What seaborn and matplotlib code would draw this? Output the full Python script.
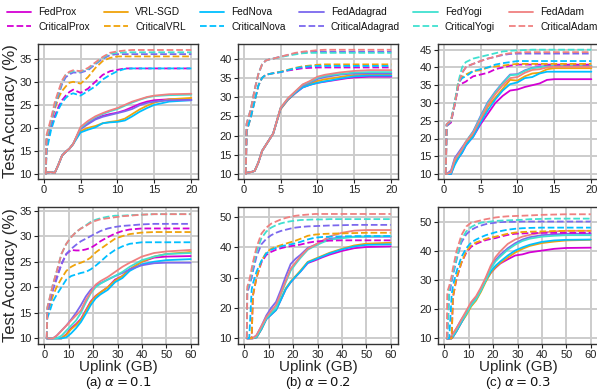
import matplotlib
matplotlib.use("Agg")
import matplotlib.pyplot as plt
import seaborn as sns
import pandas as pd

# ---- data ----
methods = ["FedProx", "VRL-SGD", "FedNova", "FedAdagrad", "FedYogi", "FedAdam"]
critical = ["CriticalProx", "CriticalVRL", "CriticalNova", "CriticalAdagrad", "CriticalYogi", "CriticalAdam"]
colors = ["#d400d4", "#f0a30a", "#00bfff", "#7b68ee", "#40e0d0", "#f08080"]

# x grids (uplink in GB)
x_top = [0.3, 0.4, 1, 1.5, 2, 2.5, 3, 3.5, 4, 5, 6, 7, 8, 9, 10, 11, 12, 13, 14, 15, 17, 20]
x_bot = [1, 1.2, 2, 3, 3.5, 5, 7, 9, 11, 13, 15, 17, 19, 21, 23, 26, 29, 32, 35, 40, 45, 50, 60]

# (a) alpha = 0.1, top row
acc_a_top = {
    "FedProx":    [10, 10.3, 10.4, 10.2, 12, 14, 14.8, 15.5, 16.5, 19.8, 21, 22, 22.6, 23, 23.3, 23.8, 24.5, 25.2, 25.7, 26, 26.2, 26.2],
    "VRL-SGD":    [10, 10.3, 10.4, 10.2, 12, 14, 14.8, 15.5, 16.5, 19.3, 20, 20.4, 21, 21.3, 21.5, 22, 23, 24, 24.8, 25.5, 26.2, 26.5],
    "FedNova":    [10, 10.3, 10.4, 10.2, 12, 14, 14.8, 15.5, 16.5, 19, 19.6, 20.1, 21, 21.2, 21.3, 21.6, 22.5, 23.5, 24.3, 25, 25.7, 26],
    "FedAdagrad": [10, 10.3, 10.4, 10.2, 12, 14, 14.8, 15.5, 16.5, 19.8, 20.8, 21.8, 22.4, 22.8, 23.2, 23.6, 24.1, 24.9, 25.4, 25.7, 26, 26],
    "FedYogi":    [10, 10.3, 10.4, 10.2, 12, 14, 14.8, 15.5, 16.5, 20, 21.3, 22.3, 23, 23.6, 24.1, 24.8, 25.5, 26.1, 26.6, 26.9, 27.1, 27.2],
    "FedAdam":    [10, 10.3, 10.4, 10.2, 12, 14, 14.8, 15.5, 16.5, 20.2, 21.5, 22.5, 23.2, 23.8, 24.3, 25, 25.7, 26.2, 26.7, 27, 27.3, 27.4],
    "CriticalProx":    [10, 17, 20, 22.5, 24.5, 26, 27, 27.8, 28.3, 27.6, 28.5, 30, 31.5, 32.3, 32.6, 32.9, 32.9, 32.9, 32.9, 32.9, 32.9, 32.9],
    "CriticalVRL":     [10, 17.5, 21, 24, 26.5, 28, 29, 29.8, 30, 29.6, 31, 33, 34.5, 35.2, 35.5, 35.5, 35.5, 35.5, 35.5, 35.5, 35.5, 35.5],
    "CriticalNova":    [10, 15, 19.5, 22, 24, 25.5, 26.5, 27.2, 27.5, 27, 28, 29, 30.5, 31.5, 32.3, 32.8, 32.9, 32.9, 32.9, 32.9, 32.9, 32.9],
    "CriticalAdagrad": [10, 18, 21, 24.5, 27, 29.5, 31, 31.6, 32, 32, 32.5, 33.8, 35, 35.8, 36, 36, 36, 36, 36, 36, 36, 36],
    "CriticalYogi":    [10, 18, 21.5, 25, 27.5, 30, 31.5, 32, 32.3, 32.2, 32.8, 34, 35.2, 36.1, 36.3, 36.4, 36.4, 36.4, 36.4, 36.4, 36.4, 36.4],
    "CriticalAdam":    [10, 18.5, 22, 25.5, 28, 30.3, 31.6, 32.2, 32.5, 32.3, 33, 34.2, 35.4, 36.3, 36.6, 36.8, 36.9, 36.9, 36.9, 36.9, 36.9, 36.9],
}

# (b) alpha = 0.2, top row
acc_b_top = {
    "FedProx":    [10, 10.3, 10.5, 10.8, 13, 16, 17.5, 19, 20.5, 27, 29.3, 31, 32.5, 33.2, 33.7, 34, 34.3, 34.6, 34.9, 35.1, 35.3, 35.3],
    "VRL-SGD":    [10, 10.3, 10.5, 10.8, 13, 16, 17.5, 19, 20.5, 26.8, 29.3, 31.1, 32.8, 33.5, 34.2, 34.6, 34.9, 35.2, 35.5, 35.7, 35.8, 35.8],
    "FedNova":    [10, 10.3, 10.5, 10.8, 13, 16, 17.5, 19, 20.5, 27, 29.4, 31.1, 32.5, 33.2, 33.7, 34.1, 34.4, 34.8, 35.1, 35.4, 35.6, 35.6],
    "FedAdagrad": [10, 10.3, 10.5, 10.8, 13, 16, 17.5, 19, 20.5, 27, 29.5, 31.3, 33, 33.8, 34.7, 35.2, 35.5, 35.8, 36, 36.1, 36.2, 36.2],
    "FedYogi":    [10, 10.3, 10.5, 10.8, 13, 16, 17.5, 19, 20.5, 27.2, 29.6, 31.4, 33.2, 34, 35, 35.5, 35.8, 36, 36.2, 36.4, 36.5, 36.5],
    "FedAdam":    [10, 10.3, 10.5, 10.8, 13, 16, 17.5, 19, 20.5, 27.2, 29.7, 31.5, 33.3, 34.2, 35.3, 35.8, 36.1, 36.4, 36.6, 36.8, 37, 37],
    "CriticalProx":    [10, 21, 25, 29, 33, 35, 35.8, 36, 36.2, 36.5, 36.9, 37.2, 37.5, 37.6, 37.7, 37.7, 37.7, 37.7, 37.7, 37.7, 37.7, 37.7],
    "CriticalVRL":     [10, 21, 25, 29, 33, 35, 35.8, 36, 36.2, 36.6, 37.1, 37.6, 38, 38.2, 38.4, 38.5, 38.5, 38.5, 38.5, 38.5, 38.5, 38.5],
    "CriticalNova":    [10, 21, 25, 29, 33, 35, 35.8, 36, 36.2, 36.5, 37, 37.5, 37.8, 38, 38.1, 38.1, 38.1, 38.1, 38.1, 38.1, 38.1, 38.1],
    "CriticalAdagrad": [10, 23, 27, 32, 36, 38.5, 39.5, 39.8, 40, 40.5, 40.9, 41.3, 41.6, 41.8, 41.8, 41.8, 41.8, 41.8, 41.8, 41.8, 41.8, 41.8],
    "CriticalYogi":    [10, 23, 27, 32, 36, 38.5, 39.5, 39.8, 40, 40.4, 40.8, 41.1, 41.4, 41.5, 41.5, 41.5, 41.5, 41.5, 41.5, 41.5, 41.5, 41.5],
    "CriticalAdam":    [10, 23, 27, 32, 36, 38.5, 39.5, 39.8, 40, 40.5, 41, 41.5, 41.8, 42, 42.2, 42.3, 42.3, 42.3, 42.3, 42.3, 42.3, 42.3],
}

# (c) alpha = 0.3, top row
acc_c_top = {
    "FedProx":    [10, 10, 10, 13, 14.5, 16, 18, 19.3, 20.5, 24, 27, 30, 32, 33.5, 33.8, 34.5, 35, 35.5, 36.5, 36.7, 36.7, 36.7],
    "VRL-SGD":    [10, 10, 10.5, 13.5, 15, 16.5, 18.5, 19.8, 21, 25, 29, 31.5, 34, 36.5, 36.3, 37.5, 38.3, 38.5, 39.5, 39.8, 39.8, 39.8],
    "FedNova":    [10, 10, 10, 12.5, 14.5, 16, 18, 19.3, 20.5, 24.5, 28, 31, 33.5, 35.3, 35.8, 37, 37.3, 38.3, 38.8, 38.8, 38.8, 38.8],
    "FedAdagrad": [10, 10, 11, 14.5, 16, 17.5, 19, 20.5, 22, 26.3, 30.3, 33.2, 35.7, 38, 38.1, 39.2, 39.9, 40.2, 40.5, 40.5, 40.5, 40.5],
    "FedYogi":    [10, 10, 10.5, 14, 15.5, 17, 19, 20.5, 21.8, 26, 30, 33, 35.5, 37.8, 38, 39, 39.8, 40, 40.4, 40.4, 40.4, 40.4],
    "FedAdam":    [10, 10, 10.5, 14, 15.5, 17, 19, 20.3, 21.5, 25.5, 29.5, 32.5, 35, 37, 37.3, 38.5, 39.3, 39.5, 40, 40.2, 40.2, 40.2],
    "CriticalProx":    [10, 23.5, 24.5, 29.5, 35, 35.5, 36, 36.8, 37.5, 38, 38.5, 39.5, 40, 40.5, 40.8, 40.8, 40.8, 40.8, 40.8, 40.8, 40.8, 40.8],
    "CriticalVRL":     [10, 23.5, 25, 30, 36, 37.3, 38, 38.5, 39, 39.2, 40, 40.3, 40.5, 40.8, 41, 41, 41, 41, 41, 41, 41, 41],
    "CriticalNova":    [10, 23.5, 25, 30, 35.5, 37, 37.5, 38.2, 39, 39.5, 40, 40.8, 41.2, 41.5, 41.8, 41.8, 41.8, 41.8, 41.8, 41.8, 41.8, 41.8],
    "CriticalAdagrad": [10, 24, 25, 29.5, 35, 38.5, 40, 40.6, 41, 41.8, 42.5, 43, 43.5, 43.8, 43.9, 43.9, 43.9, 43.9, 43.9, 43.9, 43.9, 43.9],
    "CriticalYogi":    [10, 24, 25, 30, 36, 40, 41.5, 42, 42.5, 43, 43.5, 44, 44.5, 44.7, 44.8, 44.9, 45, 45, 45, 45, 45, 45],
    "CriticalAdam":    [10, 24, 25, 29.5, 35, 38.5, 40, 40.6, 41, 41.8, 42.5, 43, 43.7, 44, 44.2, 44.3, 44.3, 44.3, 44.3, 44.3, 44.3, 44.3],
}

# (a) alpha = 0.1, bottom row
acc_a_bot = {
    "FedProx":    [10, 10, 10, 10, 10, 10, 10, 10.8, 12, 12.8, 13.8, 15.5, 17.2, 18.3, 19, 20, 21.5, 22.2, 23.5, 25, 25.8, 26, 26.1],
    "VRL-SGD":    [10, 10, 10, 10, 10, 10, 10, 10.7, 11.8, 12.6, 13.6, 15.3, 17, 18.2, 19, 20, 21.3, 22.2, 23.5, 25, 26, 26.5, 26.9],
    "FedNova":    [10, 10, 10, 10, 10, 10, 10, 10.2, 11, 12, 13.2, 14.8, 16.5, 17.8, 18.6, 19.5, 21, 21.8, 23.2, 24.5, 25, 25.3, 25.5],
    "FedAdagrad": [10, 10, 10, 10, 10, 10.5, 11.5, 12.5, 13.7, 15, 16.5, 18.2, 19.5, 20.3, 20.8, 21.5, 22.2, 22.8, 23.5, 24.3, 24.7, 24.8, 24.8],
    "FedYogi":    [10, 10, 10, 10, 10, 10, 10.5, 11.5, 12.5, 13.5, 15, 17, 18.8, 20, 20.7, 21.5, 22.2, 23, 24, 25.3, 26, 26.5, 26.7],
    "FedAdam":    [10, 10, 10, 10, 10, 10.5, 11.5, 12.5, 13.5, 14.5, 15.5, 17.5, 19, 20.5, 21.2, 22, 23, 24, 24.8, 26, 26.7, 27, 27.3],
    "CriticalProx":    [10, 15.5, 17, 18.5, 19.5, 22, 24.5, 26.5, 27.3, 27.2, 27.2, 27.4, 27.7, 28.3, 29, 29.8, 30.5, 31, 31.3, 31.5, 31.5, 31.5, 31.5],
    "CriticalVRL":     [10, 14.5, 16, 17.5, 18.3, 20, 21.7, 23.2, 24, 24.5, 24.8, 25.2, 25.8, 26.8, 27.5, 28.5, 29.5, 30, 30.4, 30.7, 30.8, 30.8, 30.8],
    "CriticalNova":    [10, 14, 15, 16.5, 17.2, 18.5, 20, 21.5, 22.2, 22.5, 22.8, 23, 23.5, 24.2, 25, 26.3, 27.3, 28, 28.5, 28.8, 28.8, 28.8, 28.8],
    "CriticalAdagrad": [10, 15, 16.5, 18.5, 19.5, 21.5, 24.5, 26.5, 27.5, 28.3, 29, 29.5, 30, 30.5, 31, 31.5, 31.8, 32, 32.1, 32.3, 32.4, 32.4, 32.4],
    "CriticalYogi":    [10, 16, 17.5, 19.5, 20.5, 23, 26.5, 28.5, 29.8, 30.8, 31.5, 32.1, 32.8, 33.2, 33.5, 33.8, 34, 34, 34.1, 34.2, 34.3, 34.3, 34.3],
    "CriticalAdam":    [10, 16, 17.5, 19.5, 20.5, 23, 26.5, 28.5, 29.8, 30.8, 31.5, 32, 32.6, 33, 33.3, 33.5, 33.7, 33.9, 34, 34.2, 34.3, 34.3, 34.3],
}

# (b) alpha = 0.2, bottom row
acc_b_bot = {
    "FedProx":    [10, 10, 10, 10, 10, 10.3, 13, 16.3, 17.8, 19.3, 22.7, 26.2, 28.5, 30.3, 32, 34.8, 35.7, 36.7, 37.6, 38.8, 39.7, 40.1, 40.3],
    "VRL-SGD":    [10, 10, 10, 10, 10, 10.3, 13, 16.5, 18, 19.5, 23, 26.5, 28.7, 30.5, 32.3, 35.2, 36.2, 37.2, 38.2, 39.5, 40.6, 41.2, 41.5],
    "FedNova":    [10, 10, 10, 10, 10, 10.3, 13, 16.3, 17.8, 19.3, 22.7, 26.2, 28.5, 30.3, 32, 35, 36, 37, 38, 39.3, 40.3, 40.8, 41],
    "FedAdagrad": [10, 10, 10, 10, 10, 11, 14, 17.5, 20, 22, 26, 30.5, 34.5, 36.2, 37.5, 39.8, 40.8, 42, 42.8, 43.3, 43.5, 43.5, 43.5],
    "FedYogi":    [10, 10, 10, 10, 10, 10.5, 13.5, 16.5, 18.5, 20, 24.5, 28.5, 32.3, 34.5, 36.5, 39.2, 40.5, 41.6, 42.5, 43, 43.4, 43.6, 43.7],
    "FedAdam":    [10, 10, 10, 10, 10, 11, 14, 17, 19, 21, 25, 29, 33, 35, 37, 39.5, 40.8, 42.2, 43.6, 44.8, 45.5, 45.7, 45.7],
    "CriticalProx":    [10, 10, 10, 10, 24, 30, 35, 37.5, 38.5, 39.2, 39.7, 40.1, 40.4, 40.6, 40.9, 41.5, 41.9, 42.1, 42.2, 42.3, 42.3, 42.3, 42.3],
    "CriticalVRL":     [10, 10, 10, 10, 24, 30, 35.5, 38.3, 39.5, 40.2, 40.7, 41.2, 41.7, 42.2, 42.8, 43.8, 44.2, 44.4, 44.5, 44.6, 44.7, 44.8, 44.8],
    "CriticalNova":    [10, 10, 10, 26, 28, 32, 35.5, 38, 39.2, 39.8, 40.3, 40.7, 41, 41.3, 41.8, 42.6, 43.2, 43.4, 43.5, 43.6, 43.7, 43.7, 43.7],
    "CriticalAdagrad": [10, 25, 27, 30, 32, 37, 41, 42.8, 44, 44.8, 45.4, 45.8, 46.2, 46.5, 46.7, 46.9, 47, 47.1, 47.2, 47.3, 47.4, 47.4, 47.4],
    "CriticalYogi":    [10, 26, 28, 31.5, 33.5, 38.5, 43, 45.2, 46.5, 47.3, 47.9, 48.3, 48.6, 48.8, 49, 49.1, 49.2, 49.2, 49.3, 49.3, 49.3, 49.3, 49.3],
    "CriticalAdam":    [10, 27, 29, 33, 35, 40, 44.5, 46.5, 47.8, 48.5, 49.2, 49.7, 50.1, 50.4, 50.6, 50.8, 51, 51, 51, 51, 51, 51, 51],
}

# (c) alpha = 0.3, bottom row
acc_c_bot = {
    "FedProx":    [10, 10, 10, 10, 10.5, 12.5, 15.5, 18.5, 21.5, 23.5, 26.5, 30, 32.5, 34.3, 35.8, 37.2, 38.5, 38.9, 39.6, 40.2, 40.8, 41.1, 41.2],
    "VRL-SGD":    [10, 10, 10, 10, 10.5, 12.5, 15.5, 18, 21, 23, 26, 29.5, 32.5, 34.5, 36, 37.8, 39.5, 40.8, 41.8, 42.8, 43.3, 43.7, 43.9],
    "FedNova":    [10, 10, 10, 10, 10.5, 12.5, 15.5, 18.5, 21.5, 23.5, 26.5, 30, 33, 35, 36.5, 38.5, 40.2, 41.3, 42.2, 43.2, 43.7, 43.9, 44],
    "FedAdagrad": [10, 10, 10, 10.5, 11.5, 13.5, 16.5, 19, 22, 24, 27, 30.5, 34.5, 37, 38.8, 41, 42.7, 44, 44.8, 45.5, 45.8, 46, 46],
    "FedYogi":    [10, 10, 10, 10, 11, 13, 16, 18.5, 21.5, 23.5, 26.5, 30, 34, 36.5, 38.2, 40.5, 42.2, 43.5, 44.3, 45, 45.3, 45.5, 45.5],
    "FedAdam":    [10, 10, 10, 11, 11.5, 13.5, 16.5, 19.5, 22.5, 24.5, 27.5, 31, 35, 38, 40, 42.5, 44, 45, 45.6, 46.4, 46.8, 47, 47],
    "CriticalProx":    [10, 10, 10, 10, 24, 30.5, 36, 39.5, 41.5, 42.5, 43.2, 43.8, 44.2, 44.5, 45, 45.6, 46, 46.1, 46.2, 46.3, 46.3, 46.3, 46.3],
    "CriticalVRL":     [10, 10, 10, 10, 24, 31, 36, 40, 42, 43, 43.6, 44.2, 44.7, 45, 45.4, 46, 46.4, 46.6, 46.7, 46.8, 46.9, 47, 47],
    "CriticalNova":    [10, 10, 10, 25, 28, 33, 38, 41, 43, 44, 44.8, 45.5, 46, 46.5, 46.9, 47.4, 47.7, 47.9, 48, 48.1, 48.1, 48.1, 48.1],
    "CriticalAdagrad": [10, 10, 25, 29.5, 31.5, 37, 43, 45.8, 47.3, 48.2, 48.8, 49.3, 49.6, 49.8, 50, 50.1, 50.1, 50.2, 50.2, 50.2, 50.2, 50.2, 50.2],
    "CriticalYogi":    [10, 10, 27, 30.5, 32.5, 37.5, 44, 46.8, 48.3, 49.2, 49.8, 50, 50.2, 50.4, 50.5, 50.6, 50.7, 50.8, 51, 51.1, 51.2, 51.2, 51.2],
    "CriticalAdam":    [10, 26, 28, 31.5, 34, 40, 45.5, 48.5, 49.8, 50.2, 50.6, 51, 51.3, 51.6, 51.8, 52, 52.1, 52.2, 52.3, 52.5, 52.6, 52.7, 52.7],
}

captions = [r"(a) $\alpha = 0.1$", r"(b) $\alpha = 0.2$", r"(c) $\alpha = 0.3$"]

# ---- style ----
sns.set_theme(style="whitegrid")
plt.rcParams["font.family"] = ["Liberation Sans", "DejaVu Sans"]
plt.rcParams["mathtext.fontset"] = "dejavusans"
plt.rcParams.update({
    "axes.edgecolor": "#333333",
    "axes.linewidth": 1.0,
    "grid.color": "#cccccc",
    "grid.linewidth": 1.4,
    "xtick.bottom": True,
    "ytick.left": True,
    "xtick.major.size": 3,
    "ytick.major.size": 3,
    "xtick.major.width": 0.8,
    "ytick.major.width": 0.8,
    "xtick.color": "#222222",
    "ytick.color": "#222222",
    "text.color": "#111111",
})

fig = plt.figure(figsize=(5.97, 3.92), dpi=100)

lefts = [38 / 597, 238 / 597, 438 / 597]
w = 160 / 597
top_row = [acc_a_top, acc_b_top, acc_c_top]
bot_row = [acc_a_bot, acc_b_bot, acc_c_bot]
top_ylims = [(8.9, 38.2), (8.7, 43.8), (8.6, 46.6)]
bot_ylims = [(8.9, 35.7), (8.1, 53.3), (8.05, 55.2)]
top_yticks = [range(10, 36, 5), range(10, 41, 5), range(10, 46, 5)]
bot_yticks = [range(10, 36, 5), range(10, 51, 10), range(10, 51, 10)]

handles = []
for row, (panels, xs) in enumerate([(top_row, x_top), (bot_row, x_bot)]):
    for col, acc in enumerate(panels):
        if row == 0:
            ax = fig.add_axes([lefts[col], 1 - 179 / 392, w, 135 / 392])
        else:
            ax = fig.add_axes([lefts[col], 1 - 344 / 392, w, 137 / 392])
        for m, cm, c in zip(methods, critical, colors):
            sns.lineplot(x=xs, y=acc[m], ax=ax, color=c, lw=1.3, label=m if (row == 0 and col == 0) else None)
        for m, cm, c in zip(methods, critical, colors):
            sns.lineplot(x=xs, y=acc[cm], ax=ax, color=c, lw=1.3, linestyle="--",
                         label=cm if (row == 0 and col == 0) else None)
        if row == 0 and col == 0:
            handles, labels = ax.get_legend_handles_labels()
        if ax.get_legend() is not None:
            ax.get_legend().remove()

        if row == 0:
            ax.set_xlim(-0.76, 20.9)
            ax.set_xticks([0, 5, 10, 15, 20])
            ax.set_ylim(*top_ylims[col])
            ax.set_yticks(list(top_yticks[col]))
            ax.set_xlabel("")
        else:
            ax.set_xlim(-2.6, 63)
            ax.set_xticks([0, 10, 20, 30, 40, 50, 60])
            ax.set_ylim(*bot_ylims[col])
            ax.set_yticks(list(bot_yticks[col]))
            ax.set_xlabel("Uplink (GB)", fontsize=11, labelpad=0)
            ax.text(0.5, -0.225, captions[col], transform=ax.transAxes, ha="center", va="top", fontsize=9.5)
        ax.tick_params(labelsize=8, pad=1.5)
        if col == 0:
            ax.set_ylabel("Test Accuracy (%)", fontsize=12, labelpad=1)
        else:
            ax.set_ylabel("")
        for s in ax.spines.values():
            s.set_visible(True)

# legend: row 1 solid, row 2 dashed
order = []
for i in range(6):
    order += [i, i + 6]
fig.legend([handles[i] for i in order], [labels[i] for i in order], ncol=6, loc="upper left",
           bbox_to_anchor=(0.0, 1.0), frameon=False, fontsize=7.3, handlelength=2.4,
           handletextpad=0.7, columnspacing=1.35, labelspacing=0.45, borderaxespad=0.3)

fig.savefig("out.png", dpi=100)
